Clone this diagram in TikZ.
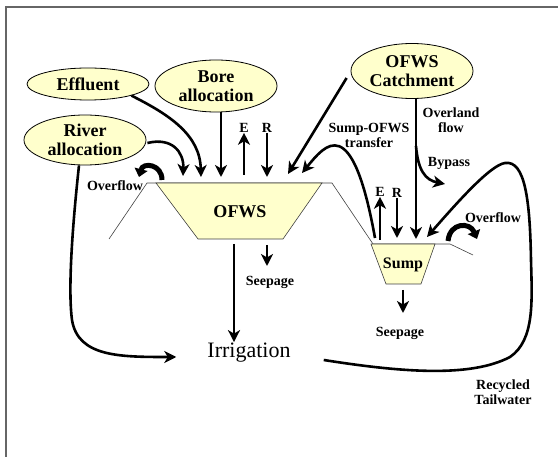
\documentclass[tikz,border=0pt]{standalone}
\usepackage{fontspec}
\setmainfont{Liberation Serif}
\usetikzlibrary{arrows.meta,shapes.geometric,calc}
\definecolor{paleyellow}{RGB}{255,255,204}
\begin{document}
\begin{tikzpicture}[x=1pt,y=-1pt,
  src/.style={ellipse, draw=black, line width=0.8pt, fill=paleyellow, inner sep=0pt,
    minimum width=122pt, font=\fontsize{18}{19}\selectfont\bfseries, align=center},
  lbl/.style={font=\fontsize{14}{15}\selectfont\bfseries, align=center, inner sep=0pt},
  flow/.style={line width=2.6pt, -{Stealth[length=12pt,width=12pt,inset=3.5pt]}},
  ground/.style={line width=0.6pt, draw=black!75},
  basin/.style={fill=paleyellow, draw=black!75, line width=0.6pt},
  over/.style={line width=5pt, -{Triangle[length=8pt,width=13pt]}},
]
\useasboundingbox (0,0) rectangle (558,457);
\draw[draw=black!60, line width=1.5pt] (6,457) -- (6,7) -- (558,7);

% ground and basins
\draw[ground] (109,239) -- (147,183) -- (332,183) -- (373,244) -- (450,244) -- (473,255);
\draw[basin] (156,183) -- (322,183) -- (283,239) -- (198,239) -- cycle;
\draw[basin] (371,244) -- (435,244) -- (421,284) -- (386,284) -- cycle;

% nodes
\node[src, minimum height=32pt] (eff) at (88,84) {Effluent};
\node[src, minimum height=52pt] (bore) at (216,86) {Bore\\allocation};
\node[src, minimum height=50pt] (river) at (85,140) {River\\allocation};
\node[src, minimum height=55pt] (catch) at (412,71) {OFWS\\Catchment};
\node[font=\fontsize{18}{19}\selectfont\bfseries, inner sep=0pt] (ofws) at (240,212) {OFWS};
\node[font=\fontsize{16}{17}\selectfont\bfseries, inner sep=0pt] (sump) at (403,265) {Sump};
\node[font=\fontsize{22}{24}\selectfont, inner sep=1pt] (irr) at (249,353) {Irrigation};

% labels
\node[lbl] (E1) at (244,128) {E};
\node[lbl] (R1) at (267,128) {R};
\node[lbl] (E2) at (380,192) {E};
\node[lbl] (R2) at (397,193) {R};
\node[lbl] (ovl) at (115,186) {Overflow};
\node[lbl] (ovr) at (493,218) {Overflow};
\node[lbl] (trans) at (369,135) {Sump-OFWS\\transfer};
\node[lbl] (overland) at (451,120) {Overland\\flow};
\node[lbl] (bypass) at (449,163) {Bypass};
\node[lbl] (seep1) at (270,282) {Seepage};
\node[lbl] (seep2) at (400,333) {Seepage};
\node[lbl] (recyc) at (503,392) {Recycled\\Tailwater};

% coordinates on basins
\coordinate (inR) at (183,176);
\coordinate (inE) at (201,177);
\coordinate (inB) at (221,177);
\coordinate (outE) at (244,175);
\coordinate (inRn) at (267,177);
\coordinate (inC) at (288,174);
\coordinate (inT) at (302,173);
\coordinate (outO) at (234,244);
\coordinate (outS) at (267,245);
\coordinate (sOutT) at (375,238);
\coordinate (sOutE) at (380,240);
\coordinate (sInR) at (397,238);
\coordinate (sInO) at (416,239);
\coordinate (sInRec) at (427,237);
\coordinate (sOutS) at (403,290);
\coordinate (byp) at (445,184);

% flows into OFWS
\draw[flow] ($(river.east)+(1,3)$) .. controls (172,137) and (184,152) .. (inR);
\draw[flow] (eff.south east) .. controls (170,115) and (200,135) .. (inE);
\draw[flow] (bore.south -| inB) -- (inB);
\draw[flow] (outE) -- (E1.south);
\draw[flow] (R1.south) -- (inRn);
\draw[flow] ($(catch.west)+(-4,7)$) -- (inC);
\draw[flow] (sOutT) .. controls (352,110) and (325,145) .. (inT);

% flows out of OFWS
\draw[flow] (outO) -- (irr.north -| outO);
\draw[flow] (outS) -- ++(0,21);
\draw[flow] ($(river.south)+(-6,0)$) .. controls (72,230) and (68,290) .. (72,320)
   .. controls (78,357) and (120,357) .. ($(irr.west)+(-30,4)$);

% sump flows
\draw[flow] (catch.south -| sInO) -- (sInO);
\draw[flow] (416,146) .. controls (418,170) and (425,180) .. (byp);
\draw[flow] (sOutE) -- (E2.south);
\draw[flow] (R2.south) -- (sInR);
\draw[flow] (sOutS) -- ++(0,23);
\draw[flow] ($(irr.east)+(32,7)$) .. controls (400,372) and (470,378) .. (510,357)
   .. controls (535,340) and (532,300) .. (531,260)
   .. controls (530,200) and (525,160) .. (505,163)
   .. controls (490,165) and (455,205) .. (sInRec);

% overflow arcs
\draw[over] (162,180) .. controls (162,164) and (143,162) .. (139,177);
\draw[over] (448,241) .. controls (450,222) and (470,222) .. (477,239);
\end{tikzpicture}
\end{document}
